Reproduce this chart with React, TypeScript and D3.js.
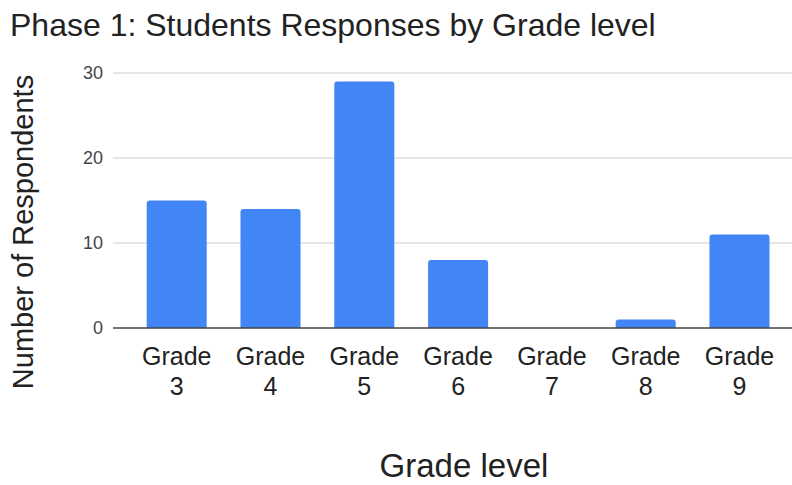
import React from "react";
import * as d3 from "d3";

const categories = ["Grade 3", "Grade 4", "Grade 5", "Grade 6", "Grade 7", "Grade 8", "Grade 9"];
const respondents = [15, 14, 29, 8, 0, 1, 11];
const yTicks = [0, 10, 20, 30];

const W = 792;
const H = 485;
const FONT = "Arial, 'Liberation Sans', sans-serif";

export default function App() {
  const x = d3
    .scaleBand<string>()
    .domain(categories)
    .range([129.8, 786.4])
    .paddingInner(0.36)
    .paddingOuter(0.18);
  const y = d3.scaleLinear().domain([0, 30]).range([328, 73]);
  const r = 3;

  const barPath = (cat: string, v: number) => {
    const x0 = x(cat)!;
    const w = x.bandwidth();
    const y0 = y(0);
    const y1 = y(v);
    if (v <= 0) return "";
    const rr = Math.min(r, y0 - y1);
    return `M${x0},${y0} L${x0},${y1 + rr} Q${x0},${y1} ${x0 + rr},${y1} L${x0 + w - rr},${y1} Q${x0 + w},${y1} ${x0 + w},${y1 + rr} L${x0 + w},${y0} Z`;
  };

  return (
    <svg
      width={W}
      height={H}
      style={{ position: "absolute", left: 0, top: 0, background: "#fff" }}
      fontFamily={FONT}
    >
      <rect x={0} y={0} width={W} height={H} fill="#fff" />
      <text x={10} y={36} fontSize={32} fill="#222">
        Phase 1: Students Responses by Grade level
      </text>
      {yTicks.map((t) => (
        <g key={t}>
          {t !== 0 && (
            <line x1={113} x2={W} y1={y(t)} y2={y(t)} stroke="#cccccc" strokeWidth={1} />
          )}
          <text x={103} y={y(t)} dy="0.35em" textAnchor="end" fontSize={18} fill="#444">
            {t}
          </text>
        </g>
      ))}
      {categories.map((c, i) => (
        <path key={c} d={barPath(c, respondents[i])} fill="#4285f4" />
      ))}
      <line x1={113} x2={W} y1={y(0)} y2={y(0)} stroke="#444" strokeWidth={1.5} />
      {categories.map((c) => {
        const cx = x(c)! + x.bandwidth() / 2;
        const [w1, w2] = c.split(" ");
        return (
          <text key={c} textAnchor="middle" fontSize={25} fill="#222">
            <tspan x={cx} y={365}>{w1}</tspan>
            <tspan x={cx} y={395}>{w2}</tspan>
          </text>
        );
      })}
      <text
        transform={`translate(33,232) rotate(-90)`}
        textAnchor="middle"
        fontSize={29}
        fill="#222"
      >
        Number of Respondents
      </text>
      <text x={464} y={477} textAnchor="middle" fontSize={33} fill="#222">
        Grade level
      </text>
    </svg>
  );
}
